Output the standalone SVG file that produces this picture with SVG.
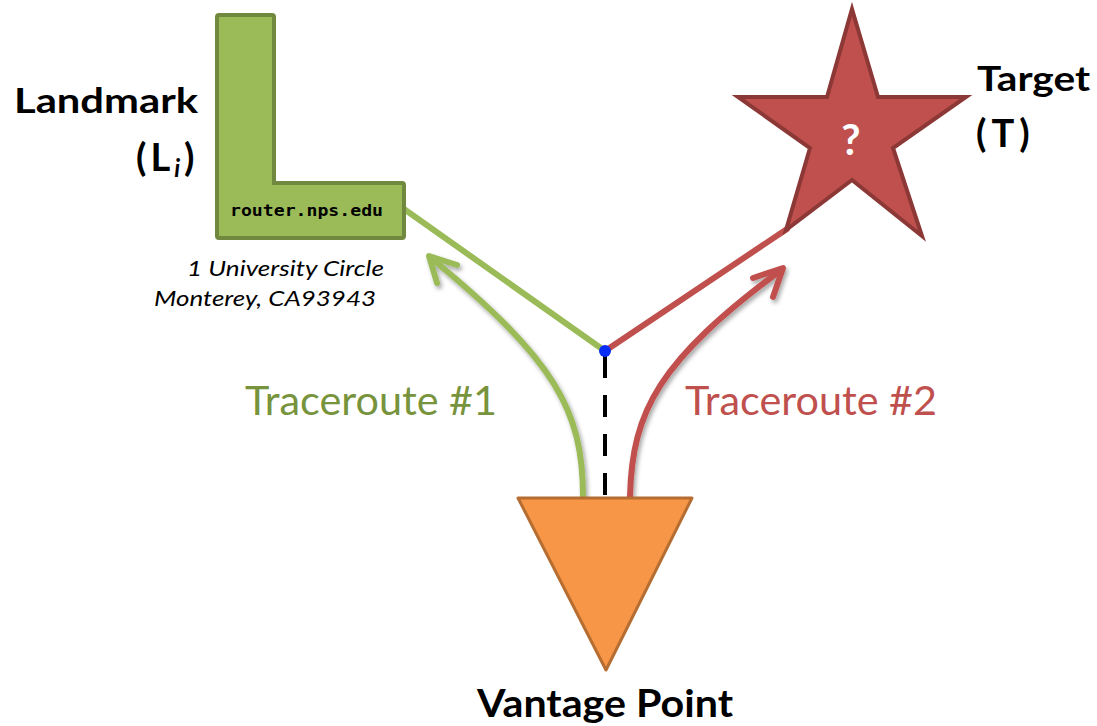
<svg xmlns="http://www.w3.org/2000/svg" width="1097" height="726" viewBox="0 0 1097 726">
<defs>
<style>
.lbl{font-family:Lato,"Open Sans","Liberation Sans",sans-serif;font-weight:bold;fill:#000}
.addr{font-family:Lato,"Open Sans","Liberation Sans",sans-serif;font-style:italic;font-size:21px;fill:#000}
.tr{font-family:Lato,"Open Sans","Liberation Sans",sans-serif;font-size:40px}
.green{stroke:#9BBB59;stroke-width:6;fill:none;stroke-linecap:round;stroke-linejoin:round}
.red{stroke:#C0504D;stroke-width:6;fill:none;stroke-linecap:round;stroke-linejoin:round}
</style>
<filter id="sh" x="-20%" y="-20%" width="140%" height="140%">
<feDropShadow dx="2" dy="3" stdDeviation="2" flood-color="#000" flood-opacity="0.35"/>
</filter>
</defs>
<rect width="1097" height="726" fill="#fff"/>

<g id="connectors">
<line class="green" x1="404" y1="209" x2="605" y2="351"/>
<line class="red" x1="605" y1="351" x2="787" y2="229"/>
<line x1="605" y1="356" x2="605" y2="497" stroke="#000" stroke-width="4" stroke-dasharray="22 17"/>
<g filter="url(#sh)">
<path class="green" d="M583,497 C583,410 555,360 431,258"/>
<polyline class="green" points="457,265 429,256 437,283"/>
<path class="red" d="M630,497 C632,410 660,360 781,270"/>
<polyline class="red" points="753,278 783,268 773,297"/>
</g>
<circle cx="605" cy="351" r="6" fill="#0A2EF5"/>
</g>

<g id="landmark">
<path d="M217,17 Q217,15 219,15 L272,15 Q274,15 274,17 L274,183 L402,183 Q404,183 404,185 L404,236 Q404,238 402,238 L219,238 Q217,238 217,236 Z" fill="#9BBB59" stroke="#71893F" stroke-width="4"/>
<text x="230" y="216" font-family="'DejaVu Sans Mono','Liberation Mono',monospace" font-weight="bold" font-size="15" textLength="153" lengthAdjust="spacingAndGlyphs" fill="#000">router.nps.edu</text>
<text class="lbl" x="14" y="113" font-size="35" textLength="184" lengthAdjust="spacingAndGlyphs">Landmark</text>
<text class="lbl" x="136" y="171" font-size="38" letter-spacing="4">(L<tspan font-style="italic" font-size="24" dy="6">i</tspan><tspan dy="-6">)</tspan></text>
<text class="addr" x="187" y="276" textLength="197" lengthAdjust="spacingAndGlyphs">1 University Circle</text>
<text class="addr" x="154" y="306" textLength="222" lengthAdjust="spacingAndGlyphs">Monterey, CA93943</text>
</g>

<g id="target">
<polygon points="852,9 878,97 966,97 893,148 922,236 852,180 786,230 810,148 738,97 827,97" fill="#C0504D" stroke="#8C3836" stroke-width="4" stroke-linejoin="miter"/>
<text x="851" y="155" text-anchor="middle" font-family="Lato,'Open Sans',sans-serif" font-weight="bold" font-size="42" fill="#fff">?</text>
<text class="lbl" x="977" y="91" font-size="35" textLength="113" lengthAdjust="spacingAndGlyphs">Target</text>
<text class="lbl" x="976" y="147" font-size="38" letter-spacing="5">(T)</text>
</g>

<g id="vantage">
<polygon points="518,498 692,498 606,670" fill="#F79646" stroke="#B66D31" stroke-width="3" stroke-linejoin="round"/>
<text class="lbl" x="477" y="717" font-size="38" textLength="256" lengthAdjust="spacingAndGlyphs">Vantage Point</text>
</g>

<g id="labels">
<text class="tr" x="245" y="415" fill="#77933C" textLength="252" lengthAdjust="spacingAndGlyphs">Traceroute #1</text>
<text class="tr" x="685" y="415" fill="#C0504D" textLength="252" lengthAdjust="spacingAndGlyphs">Traceroute #2</text>
</g>
</svg>
